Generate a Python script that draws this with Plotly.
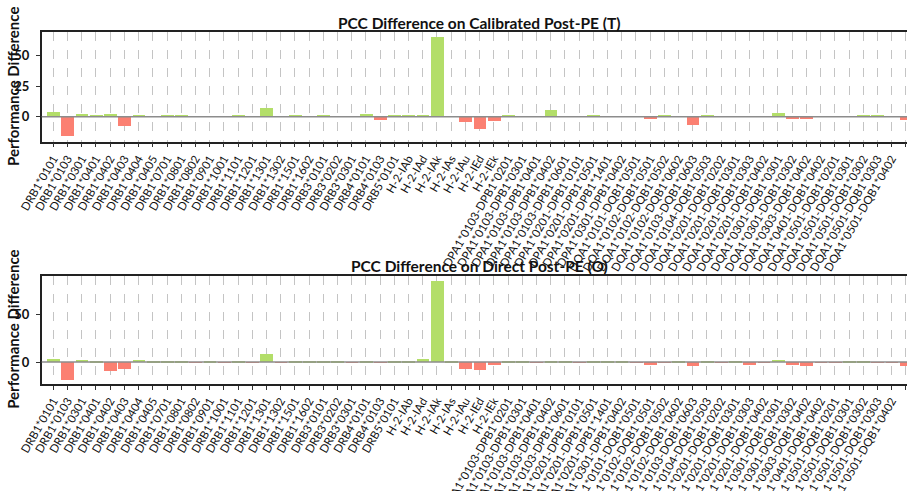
import plotly.graph_objects as go

categories = [
    "DRB1*0101", "DRB1*0103", "DRB1*0301", "DRB1*0401", "DRB1*0402", "DRB1*0403",
    "DRB1*0404", "DRB1*0405", "DRB1*0701", "DRB1*0801", "DRB1*0802", "DRB1*0901",
    "DRB1*1001", "DRB1*1101", "DRB1*1201", "DRB1*1301", "DRB1*1302", "DRB1*1501",
    "DRB1*1602", "DRB3*0101", "DRB3*0202", "DRB3*0301", "DRB4*0101", "DRB4*0103",
    "DRB5*0101", "H-2-IAb", "H-2-IAd", "H-2-IAk", "H-2-IAs", "H-2-IAu", "H-2-IEd",
    "H-2-IEk",
    "DPA1*0103-DPB1*0201", "DPA1*0103-DPB1*0301", "DPA1*0103-DPB1*0401",
    "DPA1*0103-DPB1*0402", "DPA1*0103-DPB1*0601", "DPA1*0201-DPB1*0101",
    "DPA1*0201-DPB1*0501", "DPA1*0201-DPB1*1401", "DPA1*0301-DPB1*0402",
    "DQA1*0101-DQB1*0501", "DQA1*0102-DQB1*0501", "DQA1*0102-DQB1*0502",
    "DQA1*0102-DQB1*0602", "DQA1*0103-DQB1*0603", "DQA1*0104-DQB1*0503",
    "DQA1*0201-DQB1*0202", "DQA1*0201-DQB1*0301", "DQA1*0201-DQB1*0303",
    "DQA1*0201-DQB1*0402", "DQA1*0301-DQB1*0301", "DQA1*0301-DQB1*0302",
    "DQA1*0303-DQB1*0402", "DQA1*0401-DQB1*0402", "DQA1*0501-DQB1*0201",
    "DQA1*0501-DQB1*0301", "DQA1*0501-DQB1*0302", "DQA1*0501-DQB1*0303",
    "DQA1*0501-DQB1*0402", "DQA1*0601-DQB1*0402",
]

diff_calibrated_T = [
    3.8, -16.4, 2.2, 1.4, 2.2, -8.2, 1.4, 0.2, 0.6, 0.6, -0.3, 0.2,
    -0.3, 0.6, 0.2, 7.1, -0.3, 0.6, -0.3, 0.6, 0.2, -0.3, 2.2, -2.7,
    1.4, 0.6, 1.4, 65.1, -0.4, -4.9, -10.3, -4.1,
    0.6, 0.2, 0.2, 5.5, 0.2, -0.3, 1.4, 0.2, 0.2,
    -0.3, -2.5, 0.5, 0.2, -7.4, 1.4, -0.3, 0.2, -0.3, -0.3,
    3.0, -2.2, -2.2, -0.3, -0.3, -0.3, 0.6, 0.6, 0.2, -3.3,
]

diff_direct_O = [
    3.5, -18.1, 2.4, 1.4, -8.7, -7.3, 2.4, 0.7, 0.7, 0.7, -0.3, 0.7,
    -0.3, 0.5, -0.3, 8.7, -0.3, 1.4, 0.5, 0.5, 0.5, -0.3, 1.4, -0.3,
    1.4, 0.5, 3.5, 85.7, 0.5, -6.9, -8.0, -2.4,
    0.6, 0.6, -0.3, 0.5, 0.5, -0.3, 1.4, 0.5, 0.5,
    -0.3, -2.4, -0.3, 0.5, -3.8, 0.5, -0.3, 0.5, -2.4, -0.3,
    2.4, -2.4, -3.8, -0.3, -0.3, 0.5, 1.4, -0.3, -0.3, -3.5,
]

titles = ["PCC Difference on Calibrated Post-PE (T)", "PCC Difference on Direct Post-PE (O)"]
y_label = "Performance Difference"

POS = "#b3de69"
NEG = "#fb8072"
FONT = "Lato"
W, H = 907, 491

fig = go.Figure()

panels = [
    dict(vals=diff_calibrated_T, top=32.3, bot=141.7, yr=[-20.5, 69.2], ticks=[0, 25, 50], title_y=22.5),
    dict(vals=diff_direct_O, top=275.7, bot=384.0, yr=[-23.0, 90.5], ticks=[0, 50], title_y=265.5),
]

x_left = 41.7
for k, p in enumerate(panels):
    idx = list(range(len(categories)))
    sfx = "" if k == 0 else "2"
    fig.add_trace(go.Bar(
        x=idx, y=p["vals"], width=0.9,
        marker=dict(color=[POS if v >= 0 else NEG for v in p["vals"]], line=dict(width=0)),
        xaxis="x" + sfx, yaxis="y" + sfx, showlegend=False, hoverinfo="skip",
    ))
    ydom = [1 - p["bot"] / H, 1 - p["top"] / H]
    fig.layout["xaxis" + sfx] = dict(
        domain=[x_left / W, 1], anchor="y" + sfx,
        range=[-0.82, 60.08],
        tickmode="array", tickvals=idx, ticktext=categories,
        tickangle=-60, tickfont=dict(family=FONT, size=11.5, color="#111"),
        ticks="outside", ticklen=4, tickcolor="#333",
        showgrid=True, gridcolor="#c4c4c4", griddash="dash", gridwidth=1,
        showline=True, linecolor="#222", linewidth=1.5, mirror=True,
        zeroline=False, automargin=False,
    )
    fig.layout["yaxis" + sfx] = dict(
        domain=ydom, anchor="x" + sfx, range=p["yr"],
        tickmode="array", tickvals=p["ticks"],
        tickfont=dict(family=FONT, size=13, color="#111", weight="bold"),
        ticks="outside", ticklen=4, tickcolor="#333", ticklabelstandoff=4,
        showgrid=False, zeroline=False,
        showline=True, linecolor="#222", linewidth=1.5,
        automargin=False,
    )
    fig.add_shape(type="line", xref="x" + sfx + " domain", yref="y" + sfx,
                  x0=0, x1=1, y0=0, y1=0, line=dict(color="#8c8c8c", width=1.5), layer="above")
    fig.add_annotation(text=titles[k], xref="paper", yref="paper",
                       x=479 / W, y=1 - p["title_y"] / H, xanchor="center", yanchor="middle",
                       showarrow=False, font=dict(family=FONT, size=15.5, color="#111", weight="bold"))
    fig.add_annotation(text=y_label, xref="paper", yref="paper",
                       x=13 / W, y=1 - ((p["top"] + p["bot"]) / 2) / H, xanchor="center", yanchor="middle",
                       textangle=-90, showarrow=False,
                       font=dict(family=FONT, size=15, color="#111", weight="bold"))

fig.update_layout(
    width=W, height=H,
    margin=dict(l=0, r=0, t=0, b=0),
    plot_bgcolor="white", paper_bgcolor="white",
    bargap=0, barmode="overlay",
)

fig.write_html(
    "out.html",
    config={"displayModeBar": False},
    post_script="document.body.style.margin='0';document.body.style.padding='0';document.body.style.overflow='hidden';",
)
